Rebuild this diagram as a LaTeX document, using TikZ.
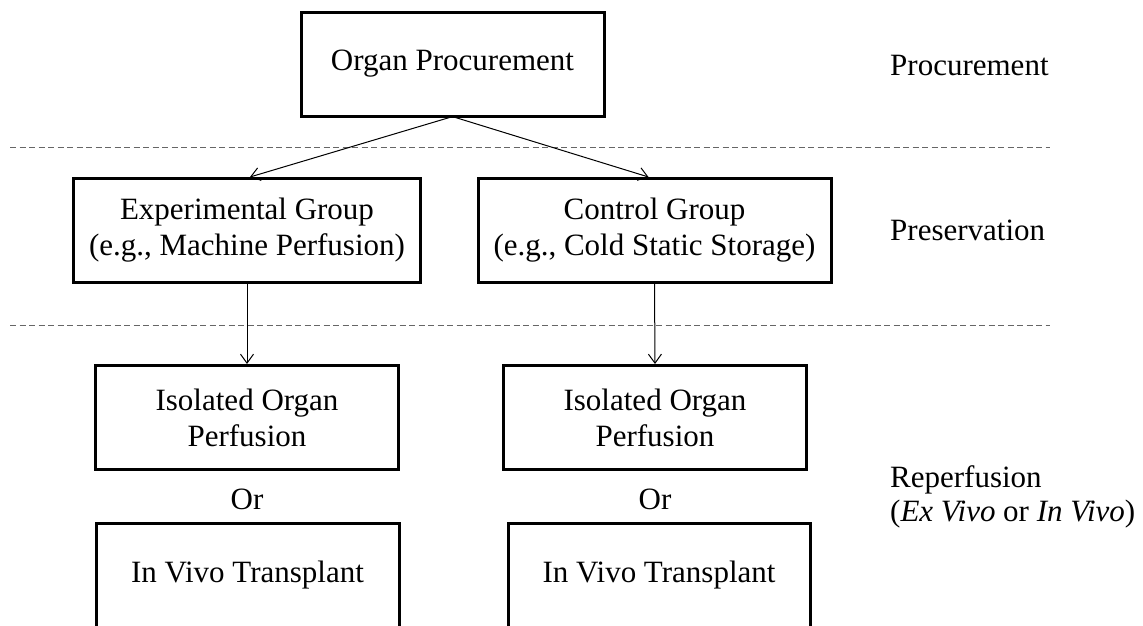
\documentclass[tikz,border=0pt]{standalone}
\usepackage{fontspec}
\setmainfont{Liberation Serif}
\usepackage{tikz}
\usetikzlibrary{arrows.meta}

\tikzset{
	stagebox/.style={draw, line width=3pt, align=center, inner sep=0pt, minimum height=104pt},
	stagetext/.style={font=\fontsize{31}{36}\selectfont},
	phase/.style={stagetext, inner sep=0pt, anchor=base west},
	link/.style={line width=1pt, -{Straight Barb[length=9pt,width=13pt]}},
	divider/.style={black!60, line width=1pt, dash pattern=on 6pt off 3.5pt}
}

\begin{document}
\begin{tikzpicture}[x=1pt, y=-1pt, every node/.style={stagetext}]
%	\draw[help lines] (0,0)grid(1143,625);
	\useasboundingbox (0,0) rectangle (1143,625);
	\clip (0,0) rectangle (1143,625);

	%phase separators
	\draw[divider] (10,147) -- (1050,147);
	\draw[divider] (10,325) -- (1050,325);

	%boxes
	\node[stagebox, minimum width=303pt] (procure) at (452.5,64) {Organ Procurement};

	\node[stagebox, minimum width=347pt] (expgroup) at (247,230.5) {Experimental Group\\(e.g., Machine Perfusion)};
	\node[stagebox, minimum width=353pt] (ctrlgroup) at (654.5,230.5) {Control Group\\(e.g., Cold Static Storage)};

	\node[stagebox, minimum width=303pt] (expiso) at (247,417.5) {Isolated Organ\\Perfusion};
	\node[stagebox, minimum width=303pt] (ctrliso) at (655,417.5) {Isolated Organ\\Perfusion};

	\node (expor) at (247,499) {Or};
	\node (ctrlor) at (655,499) {Or};

	\node[stagebox, minimum width=303pt] (exptx) at (247.5,575.5) {In Vivo Transplant};
	\node[stagebox, minimum width=302pt] (ctrltx) at (659,575.5) {In Vivo Transplant};

	%arrows
	\draw[link] ([xshift=-3pt]procure.south) -- ([xshift=3pt]expgroup.north);
	\draw[link] ([xshift=3pt]procure.south) -- ([xshift=-6pt]ctrlgroup.north);
	\draw[link] (expgroup.south) -- (expiso.north);
	\draw[link] (ctrlgroup.south) -- (ctrliso.north);

	%phase names
	\node[phase] (procphase) at (890,75) {Procurement};
	\node[phase] (presphase) at (890,240) {Preservation};
	\node[phase] (repphase) at (890,487) {Reperfusion};
	\node[phase] (repnote) at (890,521) {(\textit{Ex Vivo} or \textit{In Vivo})};
\end{tikzpicture}
\end{document}
